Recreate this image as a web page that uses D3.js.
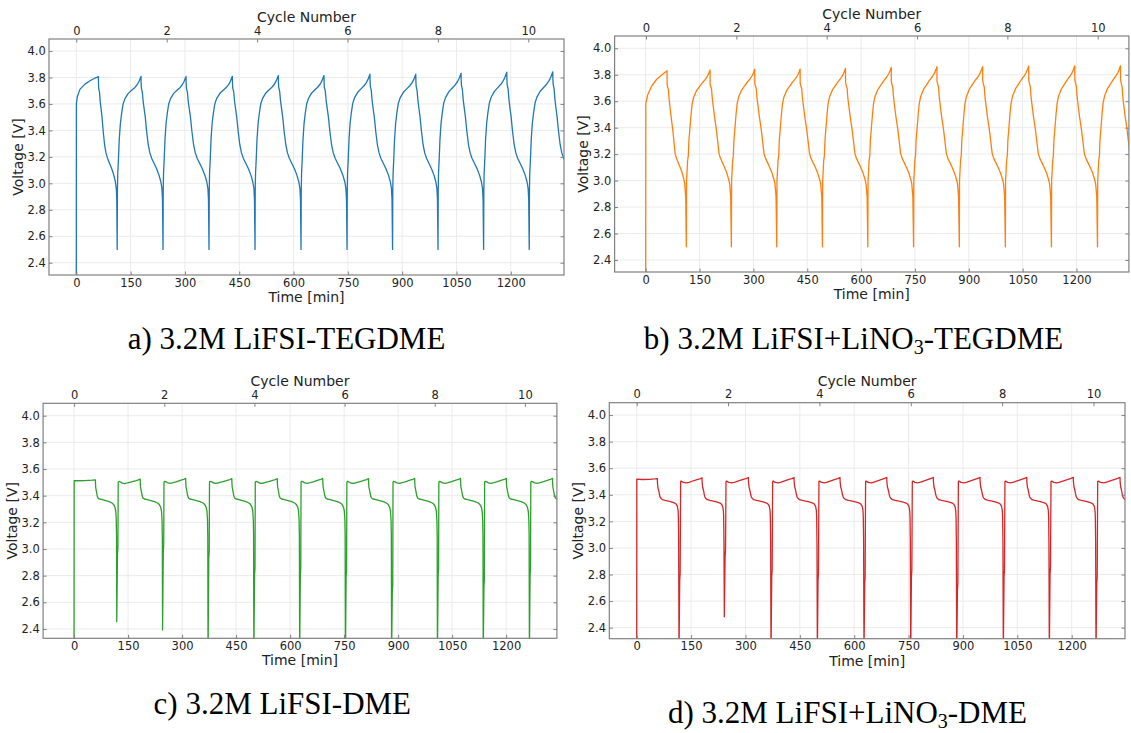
<!DOCTYPE html>
<html>
<head>
<meta charset="utf-8">
<script src="https://cdn.jsdelivr.net/npm/d3@7"></script>
<style>
  body { margin: 0; background: #fff; }
  svg { display: block; }
</style>
</head>
<body>
<svg id="chart" width="1131" height="733"></svg>
<script>
// tick labels
const timeTicks = [0, 150, 300, 450, 600, 750, 900, 1050, 1200];
const cycleTicks = [0, 2, 4, 6, 8, 10];
const voltTicks = [2.4, 2.6, 2.8, 3.0, 3.2, 3.4, 3.6, 3.8, 4.0];

// a) 3.2M LiFSI-TEGDME  (time [min], voltage [V])
const aFirstCharge = [[0, 2.2], [0.3, 3.605], [2.8, 3.655], [10, 3.71], [24, 3.75], [38, 3.775], [52, 3.796]];
const aPeakT = [61, 178.7, 303, 431, 558, 684, 811, 937.6, 1062.7, 1189, 1316];
const aPeakV = [3.806, 3.808, 3.808, 3.809, 3.815, 3.815, 3.825, 3.825, 3.833, 3.84, 3.843];
const aMinT = [113, 239.5, 366.6, 493.6, 620.7, 747.8, 873.5, 999, 1125, 1251];
const aMinV = [2.5, 2.5, 2.5, 2.5, 2.5, 2.5, 2.5, 2.5, 2.5, 2.5];
const aChargeDt = [0.6, 1.5, 2.8, 3.6, 5.5, 8.5, 12, 16, 21, 30, 40, 48, 54, 59];
const aChargeV = [2.95, 3.08, 3.15, 3.2, 3.33, 3.45, 3.53, 3.6, 3.64, 3.68, 3.705, 3.725, 3.745, 3.77];
const aDischargeDt = [0.3, 1.0, 3.7, 6, 9, 12, 16, 20.5, 25, 30, 37, 44, 51, 56, 59, 60.5];
const aDischargeV = [3.76, 3.72, 3.69, 3.62, 3.56, 3.5, 3.39, 3.29, 3.23, 3.19, 3.15, 3.11, 3.06, 3.01, 2.96, 2.88];

// b) 3.2M LiFSI+LiNO3-TEGDME
const bFirstCharge = [[0, 2.2], [0.3, 3.584], [5.5, 3.647], [16.7, 3.715], [30.6, 3.766], [44.6, 3.798]];
const bPeakT = [59.5, 179.3, 303.8, 430.2, 556.6, 684, 811.3, 938.6, 1066.9, 1195.2, 1322.6];
const bPeakV = [3.831, 3.836, 3.841, 3.843, 3.848, 3.856, 3.861, 3.861, 3.866, 3.868, 3.868];
const bMinT = [113.2, 238.7, 365.1, 492.4, 618.8, 746.2, 873.6, 1001.9, 1130.2, 1258.5];
const bMinV = [2.5, 2.5, 2.5, 2.5, 2.5, 2.5, 2.5, 2.5, 2.5, 2.5];
const bChargeDt = [0.6, 1.8, 3.5, 5.5, 7, 10, 13, 16, 20, 28, 36, 44, 52, 58, 62];
const bChargeV = [3.0, 3.06, 3.15, 3.19, 3.3, 3.4, 3.5, 3.58, 3.63, 3.68, 3.71, 3.74, 3.765, 3.79, 3.815];
const bDischargeDt = [0.2, 1.5, 4.5, 5.8, 7.6, 13, 18.5, 22, 26, 30, 37, 43, 49, 54, 57, 60];
const bDischargeV = [3.73, 3.715, 3.69, 3.64, 3.596, 3.483, 3.382, 3.3, 3.206, 3.17, 3.13, 3.095, 3.055, 3.01, 2.975, 2.878];

// c) 3.2M LiFSI-DME
const cFirstCharge = [[0, 2.2], [0.3, 3.513], [10, 3.512], [30, 3.513], [50, 3.516]];
const cPeakT = [59.3, 183.6, 309.9, 438.1, 564.3, 690.6, 817.8, 946, 1073.3, 1200.5, 1328.7];
const cPeakV = [3.518, 3.525, 3.53, 3.528, 3.528, 3.53, 3.528, 3.53, 3.53, 3.53, 3.53];
const cMinT = [118.6, 245.8, 372.1, 499.3, 626.5, 753.7, 881.9, 1009.2, 1136.4, 1264.6];
const cMinV = [2.455, 2.393, 2.2, 2.2, 2.2, 2.2, 2.2, 2.2, 2.2, 2.2];
const cRecV = [2.96, 2.98, 2.93, 2.805, 2.805, 2.79, 2.68, 2.805, 2.72, 2.805];
const cChargeDt = [4, 4.8, 6, 9, 15, 22, 30, 38, 46, 54, 60];
const cChargeV = [3.5, 3.505, 3.507, 3.505, 3.495, 3.492, 3.497, 3.503, 3.51, 3.516, 3.521];
const cDischargeDt = [0.3, 1, 2.5, 3.5, 5.5, 8, 12, 20, 30, 40, 48, 53, 56.5, 59, 60.5, 61.3];
const cDischargeV = [3.5, 3.465, 3.445, 3.43, 3.4, 3.382, 3.375, 3.37, 3.363, 3.355, 3.345, 3.333, 3.315, 3.285, 3.22, 3.1];

// d) 3.2M LiFSI+LiNO3-DME
const dFirstCharge = [[0, 2.2], [0.3, 3.518], [15, 3.515], [35, 3.516], [50, 3.519]];
const dPeakT = [56.9, 180.1, 308, 434, 560.8, 689.7, 818.2, 947, 1075.9, 1204.4, 1333.2];
const dPeakV = [3.521, 3.528, 3.53, 3.53, 3.53, 3.531, 3.531, 3.531, 3.531, 3.531, 3.531];
const dMinT = [116.7, 241.7, 370.5, 498.3, 627, 755.9, 882.8, 1011.3, 1138.2, 1267];
const dMinV = [2.2, 2.482, 2.2, 2.2, 2.2, 2.2, 2.2, 2.2, 2.2, 2.2];
const dRecV = [2.758, 2.934, 2.783, 2.758, 2.733, 2.783, 2.683, 2.783, 2.808, 2.733];
const dChargeDt = [4.5, 5.2, 6.5, 12, 20, 28, 36, 44, 52, 58];
const dChargeV = [3.5, 3.503, 3.503, 3.493, 3.49, 3.495, 3.503, 3.51, 3.517, 3.522];
const dDischargeDt = [0.3, 1.8, 3.2, 4.6, 6.5, 8.3, 11, 14.7, 22, 31.3, 40, 49.7, 54, 57, 59, 59.8, 60.6];
const dDischargeV = [3.5, 3.458, 3.445, 3.428, 3.4, 3.383, 3.372, 3.363, 3.358, 3.353, 3.347, 3.338, 3.328, 3.313, 3.28, 3.232, 3.05];

// stitch the read cycle points into one polyline per panel
function buildCurve(s) {
  const pts = s.firstCharge.slice();
  s.peakT.forEach((tp, i) => {
    const vp = s.peakV[i];
    if (i > 0) {
      const tm = s.minT[i - 1];
      const k = (tp - tm) / s.chargeSpan;
      pts.push([tm, s.minV[i - 1]]);
      if (s.recV) {
        pts.push([tm + 2 * k, s.recV[i - 1]]);
        pts.push([tm + 3.2 * k, s.recV[i - 1] + 0.05]);
      }
      s.chargeDt.forEach((dt, j) =>
        pts.push([tm + dt * k, s.chargeV[j] + (vp - s.refPeak) * dt / s.chargeSpan]));
    }
    pts.push([tp, vp]);
    const k2 = i < s.minT.length ? (s.minT[i] - tp) / s.dischargeSpan : 1;
    s.dischargeDt.forEach((dt, j) =>
      pts.push([tp + dt * k2, s.dischargeV[j] + (vp - s.refPeak) * Math.max(0, 1 - dt / 10)]));
  });
  return pts;
}

const panels = [
  { id: "a", color: "#1f77b4", left: 49, right: 564, top: 39, bottom: 275,
    tDom: [-75.4, 1347], cDom: [-0.604, 10.79], vDom: [2.307, 4.091],
    cap: ["a) 3.2M LiFSI-TEGDME"], capX: 286.5, capY: 349,
    s: { firstCharge: aFirstCharge, peakT: aPeakT, peakV: aPeakV, minT: aMinT, minV: aMinV,
         chargeDt: aChargeDt, chargeV: aChargeV, dischargeDt: aDischargeDt, dischargeV: aDischargeV,
         chargeSpan: 64.5, dischargeSpan: 62, refPeak: 3.808 } },
  { id: "b", color: "#ff7f0e", left: 614.6, right: 1128.9, top: 36, bottom: 272,
    tDom: [-86.6, 1346], cDom: [-0.695, 10.69], vDom: [2.309, 4.093],
    cap: ["b) 3.2M LiFSI+LiNO", "3", "-TEGDME"], capX: 853.5, capY: 349,
    s: { firstCharge: bFirstCharge, peakT: bPeakT, peakV: bPeakV, minT: bMinT, minV: bMinV,
         chargeDt: bChargeDt, chargeV: bChargeV, dischargeDt: bDischargeDt, dischargeV: bDischargeV,
         chargeSpan: 65, dischargeSpan: 62, refPeak: 3.836 } },
  { id: "c", color: "#2ca02c", left: 43.1, right: 556.9, top: 403.3, bottom: 638.3,
    tDom: [-86, 1341], cDom: [-0.688, 10.71], vDom: [2.33, 4.093],
    cap: ["c) 3.2M LiFSI-DME"], capX: 282.3, capY: 714,
    s: { firstCharge: cFirstCharge, peakT: cPeakT, peakV: cPeakV, minT: cMinT, minV: cMinV, recV: cRecV,
         chargeDt: cChargeDt, chargeV: cChargeV, dischargeDt: cDischargeDt, dischargeV: cDischargeV,
         chargeSpan: 65, dischargeSpan: 62, refPeak: 3.528 } },
  { id: "d", color: "#d62728", left: 609.3, right: 1125, top: 402.7, bottom: 638.7,
    tDom: [-75.6, 1347], cDom: [-0.6, 10.69], vDom: [2.317, 4.093],
    cap: ["d) 3.2M LiFSI+LiNO", "3", "-DME"], capX: 847.5, capY: 723,
    s: { firstCharge: dFirstCharge, peakT: dPeakT, peakV: dPeakV, minT: dMinT, minV: dMinV, recV: dRecV,
         chargeDt: dChargeDt, chargeV: dChargeV, dischargeDt: dDischargeDt, dischargeV: dDischargeV,
         chargeSpan: 64, dischargeSpan: 61.6, refPeak: 3.53 } }
];

const svg = d3.select("#chart");
const defs = svg.append("defs");
const spineColor = "#808080";
const textColor = "#222";
const tickFont = 11.5;

panels.forEach(p => {
  const x = d3.scaleLinear().domain(p.tDom).range([p.left, p.right]);
  const xc = d3.scaleLinear().domain(p.cDom).range([p.left, p.right]);
  const y = d3.scaleLinear().domain(p.vDom).range([p.bottom, p.top]);
  const g = svg.append("g");

  defs.append("clipPath").attr("id", "clip-" + p.id)
    .append("rect")
    .attr("x", p.left).attr("y", p.top)
    .attr("width", p.right - p.left).attr("height", p.bottom - p.top);

  // grid
  g.append("g").selectAll("line").data(timeTicks).join("line")
    .attr("x1", d => x(d)).attr("x2", d => x(d))
    .attr("y1", p.top).attr("y2", p.bottom)
    .attr("stroke", "#ebebeb").attr("stroke-width", 1);
  g.append("g").selectAll("line").data(voltTicks).join("line")
    .attr("x1", p.left).attr("x2", p.right)
    .attr("y1", d => y(d)).attr("y2", d => y(d))
    .attr("stroke", "#ebebeb").attr("stroke-width", 1);

  // voltage curve
  const line = d3.line().x(d => x(d[0])).y(d => y(d[1]));
  g.append("path")
    .datum(buildCurve(p.s))
    .attr("clip-path", "url(#clip-" + p.id + ")")
    .attr("d", line)
    .attr("fill", "none")
    .attr("stroke", p.color)
    .attr("stroke-width", 1.3)
    .attr("stroke-linejoin", "round");

  // axes, ticks pointing inward
  const styleAxis = a => {
    a.select(".domain").remove();
    a.attr("font-family", "DejaVu Sans").attr("font-size", tickFont);
    a.selectAll(".tick line").attr("stroke", spineColor).attr("stroke-width", 1);
    a.selectAll(".tick text").attr("fill", textColor);
  };
  g.append("g").attr("transform", `translate(0,${p.bottom})`)
    .call(d3.axisBottom(x).tickValues(timeTicks).tickFormat(d3.format("d"))
      .tickSizeInner(-3.5).tickSizeOuter(0).tickPadding(3.5))
    .call(styleAxis);
  g.append("g").attr("transform", `translate(0,${p.top})`)
    .call(d3.axisTop(xc).tickValues(cycleTicks).tickFormat(d3.format("d"))
      .tickSizeInner(-3.5).tickSizeOuter(0).tickPadding(4.5))
    .call(styleAxis);
  g.append("g").attr("transform", `translate(${p.left},0)`)
    .call(d3.axisLeft(y).tickValues(voltTicks).tickFormat(d3.format(".1f"))
      .tickSizeInner(-3.5).tickSizeOuter(0).tickPadding(3.3))
    .call(styleAxis);
  g.append("g").attr("transform", `translate(${p.right},0)`)
    .call(d3.axisRight(y).tickValues(voltTicks).tickFormat("").tickSizeInner(-3.5).tickSizeOuter(0))
    .call(styleAxis);

  // spines
  g.append("rect")
    .attr("x", p.left).attr("y", p.top)
    .attr("width", p.right - p.left).attr("height", p.bottom - p.top)
    .attr("fill", "none").attr("stroke", spineColor).attr("stroke-width", 1.2);

  // axis labels
  const cx = (p.left + p.right) / 2, cy = (p.top + p.bottom) / 2;
  const lab = (txt) => g.append("text").text(txt)
    .attr("font-family", "DejaVu Sans").attr("font-size", 14)
    .attr("fill", textColor).attr("text-anchor", "middle");
  lab("Cycle Number").attr("x", cx).attr("y", p.top - 17);
  lab("Time [min]").attr("x", cx).attr("y", p.bottom + 27);
  lab("Voltage [V]").attr("transform", `translate(${p.left - 26.5},${cy}) rotate(-90)`);

  // caption
  const cap = svg.append("text")
    .attr("x", p.capX).attr("y", p.capY)
    .attr("text-anchor", "middle")
    .attr("font-family", "Liberation Serif")
    .attr("font-size", 31).attr("fill", "#000");
  cap.append("tspan").text(p.cap[0]);
  if (p.cap.length > 1) {
    cap.append("tspan").text(p.cap[1]).attr("font-size", 20).attr("dy", 4.5);
    cap.append("tspan").text(p.cap[2]).attr("dy", -4.5);
  }
});
</script>
</body>
</html>
